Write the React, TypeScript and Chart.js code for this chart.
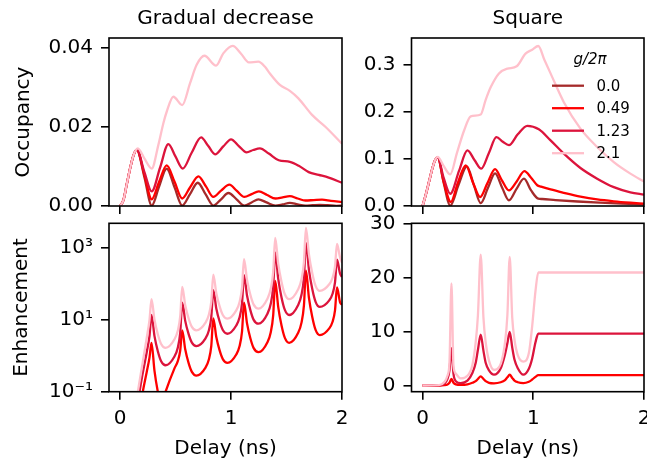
import React, { useEffect, useRef } from 'react';
import { Chart, registerables } from 'chart.js';

Chart.register(...registerables);

// ---------- data ----------
const SERIES_LABELS = ['0.0', '0.49', '1.23', '2.1'];
const COLOR_G0 = '#a52a2a';
const COLOR_G049 = '#ff0000';
const COLOR_G123 = '#dc143c';
const COLOR_G21 = '#ffc0cb';

const X_TICKS = [0, 1, 2];
const X_MIN = -0.1;
const X_MAX = 2;

// Gradual decrease – occupancy
const TL_Y_TICKS = [0, 0.02, 0.04];
const TL_X_G0 = [0, 0.03, 0.06, 0.09, 0.12, 0.15, 0.22, 0.285, 0.35, 0.42, 0.49, 0.56, 0.63, 0.70, 0.77, 0.84, 0.91, 0.976, 1.05, 1.12, 1.185, 1.246, 1.32, 1.40, 1.465, 1.53, 1.60, 1.67, 1.735, 1.80, 1.87, 1.95, 2.0];
const TL_Y_G0 = [0, 0.0015, 0.0055, 0.0095, 0.0128, 0.0143, 0.0072, 0.0001, 0.0048, 0.0095, 0.0048, 0.0001, 0.003, 0.0059, 0.003, 0.0001, 0.0017, 0.0033, 0.0017, 0.0001, 0.0009, 0.0017, 0.0009, 0.0001, 0.0004, 0.0008, 0.0004, 0.0001, 0.0002, 0.0003, 0.0002, 0.00005, 0.0001];
const TL_X_G049 = [0, 0.03, 0.06, 0.09, 0.12, 0.15, 0.22, 0.285, 0.35, 0.42, 0.49, 0.56, 0.63, 0.706, 0.775, 0.84, 0.91, 0.985, 1.05, 1.12, 1.185, 1.25, 1.325, 1.40, 1.465, 1.53, 1.60, 1.67, 1.745, 1.82, 1.9, 2.0];
const TL_Y_G049 = [0, 0.0015, 0.0055, 0.0095, 0.0128, 0.0143, 0.0078, 0.0017, 0.006, 0.0103, 0.0062, 0.0019, 0.0047, 0.0075, 0.0049, 0.0023, 0.0039, 0.0054, 0.0039, 0.0023, 0.003, 0.0037, 0.0028, 0.0019, 0.0022, 0.0025, 0.0019, 0.0014, 0.0015, 0.0016, 0.0013, 0.001];
const TL_X_G123 = [0, 0.03, 0.06, 0.09, 0.12, 0.15, 0.22, 0.285, 0.36, 0.435, 0.50, 0.565, 0.645, 0.73, 0.795, 0.856, 0.93, 1.0, 1.07, 1.14, 1.2, 1.26, 1.34, 1.43, 1.53, 1.61, 1.70, 1.79, 1.88, 2.0];
const TL_Y_G123 = [0, 0.0015, 0.0055, 0.0095, 0.0128, 0.0143, 0.0085, 0.0037, 0.0097, 0.0157, 0.0125, 0.0095, 0.0135, 0.0174, 0.0152, 0.0131, 0.0151, 0.0169, 0.0152, 0.0136, 0.0142, 0.0146, 0.0133, 0.0116, 0.0112, 0.0102, 0.0086, 0.0079, 0.0072, 0.0059];
const TL_X_G21 = [0, 0.03, 0.06, 0.09, 0.12, 0.16, 0.22, 0.285, 0.345, 0.39, 0.42, 0.48, 0.56, 0.63, 0.69, 0.76, 0.865, 0.93, 1.015, 1.09, 1.16, 1.246, 1.306, 1.35, 1.44, 1.53, 1.607, 1.73, 1.85, 2.0];
const TL_Y_G21 = [0, 0.0015, 0.0055, 0.0095, 0.0128, 0.0146, 0.012, 0.0095, 0.0155, 0.021, 0.0239, 0.0277, 0.0256, 0.0311, 0.0358, 0.0381, 0.0356, 0.0387, 0.0406, 0.0386, 0.0364, 0.0366, 0.0353, 0.0336, 0.0307, 0.0292, 0.0273, 0.0231, 0.0201, 0.0158];

// Square – occupancy
const TR_Y_TICKS = [0, 0.1, 0.2, 0.3];
const TR_X_G0 = [0, 0.03, 0.06, 0.09, 0.115, 0.137, 0.19, 0.25, 0.325, 0.40, 0.465, 0.525, 0.59, 0.655, 0.72, 0.78, 0.85, 0.916, 0.98, 1.045, 1.08, 1.2, 1.4, 1.6, 1.8, 2.0];
const TR_Y_G0 = [0, 0.025, 0.053, 0.081, 0.098, 0.103, 0.05, 0.001, 0.045, 0.084, 0.043, 0.006, 0.038, 0.069, 0.038, 0.012, 0.037, 0.058, 0.033, 0.0155, 0.0148, 0.0125, 0.0095, 0.007, 0.005, 0.0035];
const TR_X_G049 = [0, 0.03, 0.06, 0.09, 0.115, 0.137, 0.19, 0.255, 0.32, 0.39, 0.455, 0.52, 0.585, 0.655, 0.715, 0.78, 0.85, 0.92, 0.98, 1.036, 1.07, 1.156, 1.276, 1.426, 1.577, 1.727, 1.877, 2.0];
const TR_Y_G049 = [0, 0.025, 0.053, 0.081, 0.098, 0.103, 0.052, 0.0085, 0.05, 0.086, 0.05, 0.019, 0.048, 0.078, 0.055, 0.033, 0.052, 0.074, 0.06, 0.044, 0.041, 0.035, 0.028, 0.020, 0.014, 0.010, 0.007, 0.005];
const TR_X_G123 = [0, 0.03, 0.06, 0.09, 0.115, 0.137, 0.19, 0.25, 0.33, 0.405, 0.47, 0.53, 0.6, 0.667, 0.725, 0.78, 0.86, 0.946, 1.05, 1.156, 1.276, 1.426, 1.577, 1.727, 1.877, 2.0];
const TR_Y_G123 = [0, 0.025, 0.053, 0.081, 0.098, 0.1025, 0.06, 0.026, 0.075, 0.118, 0.097, 0.079, 0.113, 0.146, 0.136, 0.129, 0.152, 0.170, 0.1625, 0.139, 0.111, 0.0806, 0.058, 0.040, 0.029, 0.024];
const TR_X_G21 = [0, 0.03, 0.06, 0.09, 0.115, 0.137, 0.19, 0.25, 0.31, 0.375, 0.435, 0.525, 0.57, 0.616, 0.69, 0.766, 0.85, 0.93, 0.99, 1.045, 1.1, 1.156, 1.276, 1.426, 1.577, 1.727, 1.877, 2.0];
const TR_Y_G21 = [0, 0.025, 0.053, 0.081, 0.098, 0.104, 0.085, 0.067, 0.112, 0.160, 0.190, 0.194, 0.225, 0.252, 0.281, 0.291, 0.296, 0.323, 0.331, 0.339, 0.31, 0.281, 0.220, 0.164, 0.125, 0.093, 0.0686, 0.052];

// Gradual decrease – enhancement (log)
const BL_Y_TICKS = [0.1, 10, 1000];
const BL_Y_TICK_LABELS = ['10\u207B\u00B9', '10\u00B9', '10\u00B3'];
const BL_X = [0, 0.1, 0.16, 0.2, 0.24, 0.265, 0.283, 0.31, 0.34, 0.37, 0.41, 0.49, 0.52, 0.542, 0.56, 0.587, 0.617, 0.647, 0.687, 0.77, 0.80, 0.822, 0.84, 0.867, 0.897, 0.927, 0.967, 1.047, 1.077, 1.099, 1.117, 1.144, 1.174, 1.204, 1.247, 1.328, 1.358, 1.38, 1.398, 1.425, 1.455, 1.485, 1.524, 1.605, 1.635, 1.657, 1.675, 1.702, 1.732, 1.762, 1.80, 1.885, 1.915, 1.937, 1.955, 1.982, 2.0];
const BL_Y_G049 = [0.00001, 0.00063, 0.0126, 0.083, 0.355, 0.89, 2.31,
  0.38, 0.1, 0.04, 0.1, 0.447, 0.71, 1.41, 5.13,
  1.52, 0.635, 0.356, 0.282, 0.472, 0.789, 1.91, 11.1,
  3.35, 1.42, 0.80, 0.637, 1.09, 1.88, 4.78, 30.6,
  8.04, 3.09, 1.64, 1.27, 2.41, 4.57, 13.7, 124,
  23.3, 7.05, 3.18, 2.31, 4.42, 8.45, 25.6, 237,
  41.7, 12.1, 5.28, 3.79, 5.82, 8.93, 18.6, 80.7,
  31.6, 26.3];
const BL_Y_G123 = [0.00003, 0.002, 0.05, 0.28, 1.26, 3.55, 13.8,
  3.56, 1.35, 0.71, 0.547, 0.96, 1.69, 4.44, 30.6,
  9.46, 4.08, 2.33, 1.87, 3.09, 5.11, 12.1, 67.9,
  21.0, 9.06, 5.18, 4.14, 7.01, 11.9, 29.3, 179,
  48.2, 18.9, 10.1, 7.89, 15.0, 28.4, 85.5, 773,
  143, 42.6, 19.1, 13.8, 26.4, 50.5, 153, 1410,
  251, 73.1, 32.1, 23.1, 35.3, 54.0, 112, 479,
  200, 158];
const BL_Y_G21 = [0.0001, 0.0063, 0.1, 0.56, 3.16, 10, 37.9,
  10.2, 4.01, 2.15, 1.67, 2.90, 5.01, 12.9, 84.1,
  26.0, 11.2, 6.41, 5.13, 8.45, 14.0, 32.9, 183,
  55.8, 24.0, 13.6, 10.9, 18.6, 31.8, 79.8, 501,
  132, 50.7, 26.9, 20.8, 39.3, 74.1, 220, 1950,
  373, 115, 52.1, 38.0, 72.3, 137, 412, 3720,
  679, 202, 89.9, 65.0, 99.1, 151, 311, 1320,
  562, 398];

// Square – enhancement (linear)
const BR_Y_TICKS = [0, 10, 20, 30];
const BR_X = [0, 0.15, 0.195, 0.225, 0.243, 0.261, 0.279, 0.30, 0.345, 0.405, 0.45, 0.48, 0.50, 0.525, 0.55, 0.57, 0.60, 0.645, 0.706, 0.745, 0.766, 0.787, 0.81, 0.83, 0.86, 0.91, 0.96, 0.99, 1.02, 1.045, 2.0];
const BR_Y_G049 = [0, 0, 0.05, 0.2, 0.5, 1.2, 0.5, 0.2, 0.1, 0.2, 0.5, 0.8, 1.2, 1.7, 1.2, 0.8, 0.5, 0.4, 0.6, 1.0, 1.5, 2.0, 1.4, 0.9, 0.6, 0.45, 0.7, 1.1, 1.6, 1.9, 1.9];
const BR_Y_G123 = [0, 0.02, 0.3, 1.2, 2.8, 6.9, 2.2, 0.8, 0.45, 0.9, 2.3, 4.2, 6.6, 9.4, 6.4, 4.2, 2.8, 2.0, 3.2, 5.8, 7.8, 9.9, 7.0, 4.8, 3.2, 2.0, 3.1, 5.0, 8.0, 9.6, 9.6];
const BR_Y_G21 = [0, 0.05, 0.6, 1.8, 4.3, 18.9, 3.7, 2.2, 1.3, 1.8, 3.8, 8, 13, 24.2, 12.5, 8, 4.6, 2.9, 4, 8, 13, 23.8, 12.5, 8.5, 5.6, 4.4, 6, 11, 17.5, 20.9, 20.9];

// ---------- layout / styling ----------
const W = 647;
const H = 464;
const FONT = "'DejaVu Sans', 'Liberation Sans', sans-serif";
const TICK_FONT = { family: FONT, size: 20, lineHeight: 1.2 };
const LINE_W = 2.3;

type Series = { label: string; color: string; xs: number[]; ys: number[] };
type PanelSpec = {
  key: string;
  area: { l: number; t: number; r: number; b: number };
  title?: string;
  yTitle?: string;
  yTitlePad?: number;
  xTitle?: string;
  yType: 'linear' | 'logarithmic';
  yMin: number;
  yMax: number;
  yTicks: number[];
  yFmt: (v: number) => string;
  showXLabels: boolean;
  legend?: boolean;
  series: Series[];
};

const PANELS: PanelSpec[] = [
  {
    key: 'tl',
    area: { l: 109, t: 38, r: 342, b: 206 },
    title: 'Gradual decrease',
    yTitle: 'Occupancy',
    yTitlePad: 11.6,
    yType: 'linear',
    yMin: 0,
    yMax: 0.0426,
    yTicks: TL_Y_TICKS,
    yFmt: (v) => v.toFixed(2),
    showXLabels: false,
    series: [
      { label: SERIES_LABELS[0], color: COLOR_G0, xs: TL_X_G0, ys: TL_Y_G0 },
      { label: SERIES_LABELS[1], color: COLOR_G049, xs: TL_X_G049, ys: TL_Y_G049 },
      { label: SERIES_LABELS[2], color: COLOR_G123, xs: TL_X_G123, ys: TL_Y_G123 },
      { label: SERIES_LABELS[3], color: COLOR_G21, xs: TL_X_G21, ys: TL_Y_G21 },
    ],
  },
  {
    key: 'tr',
    area: { l: 411.5, t: 38, r: 644, b: 206 },
    title: 'Square',
    yType: 'linear',
    yMin: 0,
    yMax: 0.356,
    yTicks: TR_Y_TICKS,
    yFmt: (v) => v.toFixed(1),
    showXLabels: false,
    legend: true,
    series: [
      { label: SERIES_LABELS[0], color: COLOR_G0, xs: TR_X_G0, ys: TR_Y_G0 },
      { label: SERIES_LABELS[1], color: COLOR_G049, xs: TR_X_G049, ys: TR_Y_G049 },
      { label: SERIES_LABELS[2], color: COLOR_G123, xs: TR_X_G123, ys: TR_Y_G123 },
      { label: SERIES_LABELS[3], color: COLOR_G21, xs: TR_X_G21, ys: TR_Y_G21 },
    ],
  },
  {
    key: 'bl',
    area: { l: 109, t: 223.3, r: 342, b: 391.7 },
    yTitle: 'Enhancement',
    yTitlePad: 10,
    xTitle: 'Delay (ns)',
    yType: 'logarithmic',
    yMin: 0.1,
    yMax: 4980,
    yTicks: BL_Y_TICKS,
    yFmt: (v) => BL_Y_TICK_LABELS[BL_Y_TICKS.indexOf(v)] ?? '',
    showXLabels: true,
    series: [
      { label: SERIES_LABELS[1], color: COLOR_G049, xs: BL_X, ys: BL_Y_G049 },
      { label: SERIES_LABELS[2], color: COLOR_G123, xs: BL_X, ys: BL_Y_G123 },
      { label: SERIES_LABELS[3], color: COLOR_G21, xs: BL_X, ys: BL_Y_G21 },
    ],
  },
  {
    key: 'br',
    area: { l: 411.5, t: 223.3, r: 644, b: 391.7 },
    xTitle: 'Delay (ns)',
    yType: 'linear',
    yMin: -1.15,
    yMax: 30,
    yTicks: BR_Y_TICKS,
    yFmt: (v) => String(Math.round(v)),
    showXLabels: true,
    series: [
      { label: SERIES_LABELS[1], color: COLOR_G049, xs: BR_X, ys: BR_Y_G049 },
      { label: SERIES_LABELS[2], color: COLOR_G123, xs: BR_X, ys: BR_Y_G123 },
      { label: SERIES_LABELS[3], color: COLOR_G21, xs: BR_X, ys: BR_Y_G21 },
    ],
  },
];

const LEGEND_ITEMS = [
  { label: SERIES_LABELS[0], color: COLOR_G0 },
  { label: SERIES_LABELS[1], color: COLOR_G049 },
  { label: SERIES_LABELS[2], color: COLOR_G123 },
  { label: SERIES_LABELS[3], color: COLOR_G21 },
];

// ---------- plugins ----------
const framePlugin = {
  id: 'axesFrame',
  afterDraw(chart: any) {
    const { ctx, chartArea: a } = chart;
    ctx.save();
    ctx.strokeStyle = '#000';
    ctx.lineWidth = 1.6;
    ctx.strokeRect(a.left, a.top, a.right - a.left, a.bottom - a.top);
    ctx.restore();
  },
};

const legendPlugin = {
  id: 'gLegend',
  afterDraw(chart: any, _args: any, opts: any) {
    if (!opts || !opts.show) return;
    const { ctx, chartArea: a } = chart;
    ctx.save();
    ctx.fillStyle = '#000';
    ctx.textBaseline = 'middle';
    ctx.textAlign = 'center';
    ctx.font = `italic 15px ${FONT}`;
    ctx.fillText('g/2\u03C0', a.left + 178.5, a.top + 22.5);
    ctx.font = `15px ${FONT}`;
    ctx.textAlign = 'left';
    LEGEND_ITEMS.forEach((it, i) => {
      const y = a.top + 47.7 + i * 22.5;
      ctx.strokeStyle = it.color;
      ctx.lineWidth = LINE_W;
      ctx.beginPath();
      ctx.moveTo(a.left + 140.5, y);
      ctx.lineTo(a.left + 172.5, y);
      ctx.stroke();
      ctx.fillText(it.label, a.left + 185, y + 1);
    });
    ctx.restore();
  },
};

function zeroPad(s: any) {
  s.paddingLeft = 0;
  s.paddingRight = 0;
  s.paddingTop = 0;
  s.paddingBottom = 0;
}

function makeConfig(p: PanelSpec): any {
  const a = p.area;
  const n = p.series.length;
  const grid = {
    display: true,
    drawOnChartArea: false,
    drawTicks: true,
    tickLength: 8,
    tickWidth: 1.6,
    tickColor: '#000',
    color: '#000',
    lineWidth: 1.6,
  };
  return {
    type: 'line',
    data: {
      datasets: p.series.map((s, i) => ({
        label: s.label,
        data: s.xs.map((x, j) => ({ x, y: s.ys[j] })),
        borderColor: s.color,
        backgroundColor: s.color,
        borderWidth: LINE_W,
        pointRadius: 0,
        fill: false,
        cubicInterpolationMode: 'monotone',
        order: n - i,
      })),
    },
    plugins: [framePlugin, legendPlugin],
    options: {
      responsive: false,
      maintainAspectRatio: false,
      animation: false,
      devicePixelRatio: 1,
      events: [],
      layout: { padding: { left: 0, right: W - a.r, top: p.title ? 0 : a.t, bottom: 0 } },
      plugins: {
        legend: { display: false },
        tooltip: { enabled: false },
        title: p.title
          ? {
              display: true,
              text: p.title,
              fullSize: false,
              color: '#000',
              font: { family: FONT, size: 20, weight: 'normal', lineHeight: 1.2 },
              padding: { top: 6.3, bottom: a.t - 6.3 - 24 },
            }
          : { display: false },
        gLegend: { show: !!p.legend },
      },
      scales: {
        x: {
          type: 'linear',
          bounds: 'data',
          min: X_MIN,
          max: X_MAX,
          afterBuildTicks: (s: any) => {
            s.ticks = X_TICKS.map((v) => ({ value: v }));
          },
          afterFit: (s: any) => {
            s.height = H - a.b;
            zeroPad(s);
          },
          grid,
          border: { display: false },
          ticks: {
            display: p.showXLabels,
            color: '#000',
            font: TICK_FONT,
            padding: 7,
            maxRotation: 0,
            autoSkip: false,
            callback: (v: any) => String(v),
          },
          title: p.xTitle
            ? { display: true, text: p.xTitle, color: '#000', font: TICK_FONT, padding: { top: 0, bottom: 3.3 } }
            : { display: false },
        },
        y: {
          type: p.yType,
          bounds: 'data',
          min: p.yMin,
          max: p.yMax,
          afterBuildTicks: (s: any) => {
            s.ticks = p.yTicks.map((v) => ({ value: v }));
          },
          afterFit: (s: any) => {
            s.width = a.l;
            zeroPad(s);
          },
          grid,
          border: { display: false },
          ticks: {
            color: '#000',
            font: TICK_FONT,
            padding: 8,
            autoSkip: false,
            callback: (v: any) => p.yFmt(Number(v)),
          },
          title: p.yTitle
            ? { display: true, text: p.yTitle, color: '#000', font: TICK_FONT, padding: { top: p.yTitlePad ?? 10, bottom: 0 } }
            : { display: false },
        },
      },
    },
  };
}

function PanelChart({ spec }: { spec: PanelSpec }) {
  const ref = useRef<HTMLCanvasElement | null>(null);
  useEffect(() => {
    if (!ref.current) return;
    const chart = new Chart(ref.current, makeConfig(spec));
    return () => chart.destroy();
  }, [spec]);
  return (
    <canvas
      ref={ref}
      width={W}
      height={H}
      style={{ position: 'absolute', left: 0, top: 0, width: W, height: H }}
    />
  );
}

export default function App() {
  return (
    <div
      style={{
        position: 'absolute',
        left: 0,
        top: 0,
        width: W,
        height: H,
        overflow: 'hidden',
        background: '#fff',
      }}
    >
      {PANELS.map((p) => (
        <PanelChart key={p.key} spec={p} />
      ))}
    </div>
  );
}
